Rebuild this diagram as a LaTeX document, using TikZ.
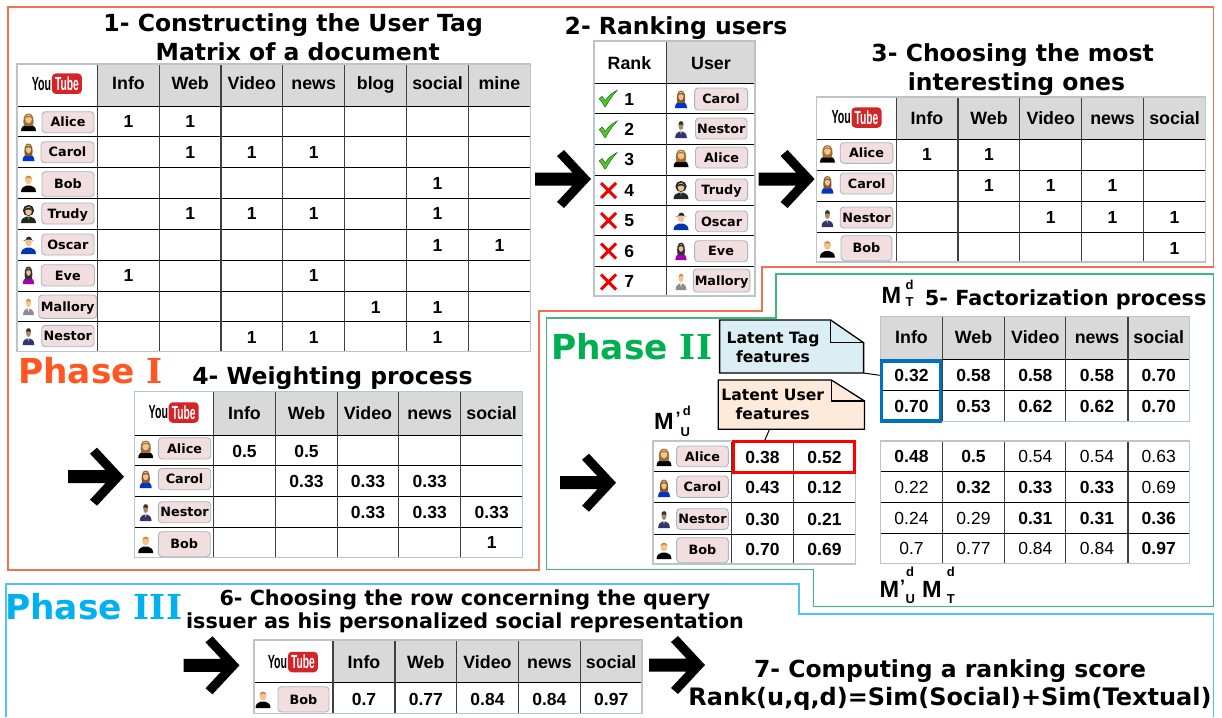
\documentclass[tikz,border=0pt]{standalone}
\usepackage{fontspec}
\setmainfont{Liberation Sans}
\newfontfamily\ttl{DejaVu Sans}
\newfontfamily\serifI{DejaVu Serif}
\usetikzlibrary{calc}
\definecolor{phaseone}{HTML}{FF5722}
\definecolor{phasetwo}{HTML}{00B050}
\definecolor{phasethree}{HTML}{00B0F0}
\definecolor{frameone}{HTML}{F0704F}
\definecolor{frametwo}{HTML}{3CB878}
\definecolor{framethree}{HTML}{4FC3F7}
\definecolor{hdr}{HTML}{D9D9D9}
\definecolor{gridout}{HTML}{B9C4CB}
\definecolor{pillfill}{HTML}{F2DEDE}
\definecolor{pilledge}{HTML}{A9B7BF}
\definecolor{skin}{HTML}{F2C48D}
\definecolor{notetag}{HTML}{DAEEF3}
\definecolor{noteuser}{HTML}{FDEADA}
\definecolor{ytred}{HTML}{D42428}
\definecolor{okgreen}{HTML}{55C22E}
\definecolor{bluebox}{HTML}{0070C0}
\newcounter{nn}
\tikzset{
  auto/.code={\stepcounter{nn}\tikzset{name=n\thenn}},
  titletext/.style={auto,font=\ttl\bfseries\fontsize{23.5}{26}\selectfont,inner sep=0pt,anchor=base},
  subtitle/.style={auto,font=\ttl\bfseries\fontsize{20.7}{24}\selectfont,inner sep=0pt,anchor=base},
  phasetext/.style={auto,font=\ttl\bfseries\fontsize{34.4}{38}\selectfont,inner sep=0pt,anchor=base west},
  headcell/.style={auto,font=\bfseries\fontsize{17.8}{20}\selectfont,inner sep=0pt,text height=12.8pt,text depth=0pt},
  valcell/.style={auto,font=\bfseries\fontsize{17.5}{20}\selectfont,inner sep=0pt,text height=12.6pt,text depth=0pt},
  plaincell/.style={auto,font=\fontsize{17.5}{20}\selectfont,inner sep=0pt,text height=12.6pt,text depth=0pt},
  pill/.style={auto,draw=pilledge,fill=pillfill,line width=0.9pt,rounded corners=3.5pt,inner sep=0pt,
    font=\ttl\bfseries\fontsize{12.8}{14}\selectfont,text=black,text height=9.4pt,text depth=0pt},
  gridin/.style={black,line width=0.9pt},
  gridedge/.style={gridout,line width=1.3pt},
  notebody/.style={line width=1.3pt,draw=black,line join=miter},
  notetext/.style={auto,font=\ttl\bfseries\fontsize{15.6}{18.7}\selectfont,inner sep=0pt,align=center},
  mlabel/.style={auto,font=\bfseries\fontsize{23.5}{26}\selectfont,inner sep=0pt,anchor=base west},
  msub/.style={auto,font=\bfseries\fontsize{13}{14}\selectfont,inner sep=0pt,anchor=base west},
  frameI/.style={frameone,line width=1.1pt},
  frameII/.style={frametwo,line width=1.1pt},
  frameIII/.style={framethree,line width=1.1pt},
}
\newcommand{\tablegrid}[6]{%
  \foreach \gy in {#2} \draw[gridin] (#5,\gy) -- (#3,\gy);
  \foreach \gx in {#1} \draw[gridin,line width=1.1pt,black!75] (\gx,#6) -- (\gx,#4);
  \draw[gridedge] (#5,#4) rectangle (#3,#6);
}
\newcommand{\cellh}[3]{\node[headcell] at (#1,#2) {#3};}
\newcommand{\cellv}[3]{\node[valcell] at (#1,#2) {#3};}
\newcommand{\cellp}[3]{\node[plaincell] at (#1,#2) {#3};}
\newcommand{\bigarrow}[2]{%
  \fill[black,shift={(#1,#2)}] (0,0) -- (-27,-29) -- (-34,-23) -- (-18.6,-6.5) -- (-56,-6.5) -- (-56,6.5) -- (-18.6,6.5) -- (-34,23) -- (-27,29) -- cycle;
}
\newcommand{\ytlogo}[2]{%
  \node[auto,anchor=east,inner sep=0pt,font=\bfseries\fontsize{19}{22}\selectfont] at (#1-0.3,#2) {\scalebox{0.56}[1]{You}};
  \node[auto,fill=ytred,rounded corners=4pt,minimum width=30pt,minimum height=20.5pt,inner sep=0pt,anchor=west,text=white,font=\bfseries\fontsize{19}{22}\selectfont] at (#1,#2) {\scalebox{0.54}[1]{Tube}};
}
\newcommand{\chip}[5]{%
  \node[pill,minimum width={(#2-#1)*1pt},minimum height={(#4-#3)*1pt}] at ({(#1+#2)/2},{(#3+#4)/2}) {#5};
}
\newcommand{\avbody}[1]{\fill[#1] (-7.5,9) .. controls (-7.5,4) and (-4,3.5) .. (-2,2.5) -- (2,2.5) .. controls (4,3.5) and (7.5,4) .. (7.5,9) -- cycle;}
\newcommand{\avhead}{\fill[skin] (0,-3) ellipse (3.4 and 4.4);}
\newcommand{\avhairlong}[1]{\fill[#1] (-4.5,4) .. controls (-6,-2) and (-5,-8.5) .. (0,-8.5) .. controls (5,-8.5) and (6,-2) .. (4.5,4) -- cycle;}
\newcommand{\avAlice}{\avbody{black}\avhairlong{brown!85!black}\avhead\fill[brown!85!black] (-3.6,-3.5) .. controls (-3,-7) and (3,-7) .. (3.6,-3.5) .. controls (2,-5.5) and (-2,-5.5) .. (-3.6,-3.5);}
\newcommand{\avCarol}{\begin{scope}[xscale=0.8]\avbody{blue!75!cyan!80!black}\avhairlong{brown!70!black}\avhead\fill[brown!70!black] (-3.6,-3.5) .. controls (-3,-7) and (3,-7) .. (3.6,-3.5) .. controls (2,-5.5) and (-2,-5.5) .. (-3.6,-3.5);\end{scope}}
\newcommand{\avBob}{\avbody{black}\avhead\fill[brown!70!orange] (-3.4,-4) .. controls (-3,-8.3) and (3,-8.3) .. (3.4,-4) .. controls (2,-6) and (-2,-6) .. (-3.4,-4);}
\newcommand{\avTrudy}{\avbody{black!85}\fill[black!85] (0,-3.5) circle (5.6);\avhead\fill[black!85] (-3.6,-3) .. controls (-3,-7.5) and (3,-7.5) .. (3.6,-3) .. controls (2,-5) and (-2,-5) .. (-3.6,-3);\fill[green!70!black] (-1,3) -- (1,3) -- (0,6) -- cycle;}
\newcommand{\avOscar}{\avbody{blue!70!cyan!70!black}\avhead\fill[black!85] (-5.5,-4) .. controls (-4,-3.6) and (-3,-5) .. (-3,-5) .. controls (-2,-9.5) and (3,-9.5) .. (3.5,-5) .. controls (4,-4.6) and (5,-3.6) .. (5.5,-4) .. controls (3,-6) and (-3,-6) .. (-5.5,-4);}
\newcommand{\avEve}{\begin{scope}[xscale=0.75]\avbody{violet!70!magenta}\avhairlong{black!80}\fill[skin] (0,-3) ellipse (3 and 3.8);\fill[black!80] (-3.4,-3.5) .. controls (-3,-7) and (3,-7) .. (3.4,-3.5) .. controls (2,-5.5) and (-2,-5.5) .. (-3.4,-3.5);\end{scope}}
\newcommand{\avMallory}{\begin{scope}[xscale=0.72]\avbody{black!45}\avhead\fill[brown!60!orange] (-3.4,-4) .. controls (-3,-8) and (3,-8) .. (3.4,-4) .. controls (2,-6) and (-2,-6) .. (-3.4,-4);\fill[white] (-1.2,2.5) -- (1.2,2.5) -- (0,6) -- cycle;\end{scope}}
\newcommand{\avNestor}{\begin{scope}[xscale=0.78]\avbody{black!60!blue!60!gray}\fill[skin!70!black] (0,-3) ellipse (3.1 and 4);\fill[black!80] (-3.4,-4.5) .. controls (-3,-9) and (3,-9) .. (3.4,-4.5) -- cycle;\fill[white!70!black] (-1.2,2.5) -- (1.2,2.5) -- (0,5.5) -- cycle;\end{scope}}
\newcommand{\avatar}[3]{\begin{scope}[shift={(#1,#2)}]\csname av#3\endcsname\end{scope}}
\newcommand{\checkmk}[2]{\fill[okgreen,draw=green!40!black,line width=0.4pt,shift={(#1,#2)}] (-9,0) -- (-6,-2.5) -- (-3,2) .. controls (0,-3) and (4,-6) .. (9,-8.5) .. controls (4,-3) and (0,3) .. (-2.5,8) -- (-3.5,8) .. controls (-5,5) and (-7,2) .. (-9,0) -- cycle;}
\newcommand{\crossmk}[2]{\draw[red!95!black,line width=3pt,shift={(#1,#2)}] (-7.5,-7.5) -- (7.5,7.5) (7.5,-7.5) -- (-7.5,7.5);}
\begin{document}
\begin{tikzpicture}[x=1pt,y=-1pt]
\useasboundingbox (0,0) rectangle (1222,717);
\fill[white] (0,0) rectangle (1222,717);

% ---------- frames
\draw[frameI] (8,7) -- (1213.5,7) -- (1213.5,267) -- (762,267) -- (762,311) -- (539,311) -- (539,570) -- (8,570) -- cycle;
\draw[frameII] (546.5,318) -- (776,318) -- (776,274) -- (1213.5,274) -- (1213.5,606.5) -- (813.5,606.5) -- (813.5,569.5) -- (546.5,569.5) -- cycle;
\draw[frameIII] (6,717) -- (6,584) -- (799,584) -- (799,614) -- (1213.5,614) -- (1213.5,717);

% ---------- table 1
\fill[hdr] (97.5,64) rectangle (530.5,106);
\tablegrid{97.5,159.4,221,282.7,344.7,406.7,468.3}{106,136.3,167.3,198.3,229,260.7,291.3,321.7}{530.5}{351.7}{17}{64}
\node[titletext] at (293.2,31.5) {1- Constructing the User Tag};
\node[titletext] at (297.7,60) {Matrix of a document};
\ytlogo{51.7}{83.7}
\foreach \x/\t in {128.5/Info,190.2/Web,251.8/Video,313.7/news,375.7/blog,437.5/social,499.4/mine} {\cellh{\x}{83.5}{\t}}
\chip{42}{94}{111.7}{132.7}{Alice}\chip{41}{94}{141.7}{162.7}{Carol}\chip{42}{94}{171.7}{196.7}{Bob}
\chip{41.7}{94}{203}{224}{Trudy}\chip{41.7}{94}{234}{255}{Oscar}\chip{41.2}{94.5}{264.7}{286}{Eve}
\chip{38.7}{96.7}{295}{318.3}{Mallory}\chip{41.7}{94}{325.3}{346.7}{Nestor}
\avatar{28.5}{122}{Alice}\avatar{28.5}{152}{Carol}\avatar{28.5}{183}{Bob}\avatar{28.5}{214}{Trudy}
\avatar{28.5}{245}{Oscar}\avatar{28.5}{275}{Eve}\avatar{28.5}{306}{Mallory}\avatar{28.5}{336}{Nestor}
\foreach \x/\y in {128.5/121,190.2/121,190.2/152,251.8/152,313.7/152,437.5/183,190.2/213.5,251.8/213.5,313.7/213.5,437.5/213.5,437.5/245,499.4/245,128.5/275.5,313.7/275.5,375.7/307,437.5/307,251.8/337.5,313.7/337.5,437.5/337.5} {\cellv{\x}{\y}{1}}

% ---------- table 2
\fill[hdr] (666.8,41) rectangle (755,83);
\tablegrid{666.8}{83,113,144,175,205,235,266}{755}{296}{594}{41}
\node[titletext] at (676,35) {2- Ranking users};
\cellh{629.5}{62.7}{Rank}\cellh{711}{62.7}{User}
\foreach \y/\n in {99/1,129/2,159.5/3,190/4,220/5,251/6,281.5/7} {\node[valcell] at (629.3,\y) {\n};}
\checkmk{608.2}{98.7}\checkmk{608.2}{129.5}\checkmk{608.2}{161}
\crossmk{608.5}{190.5}\crossmk{608.5}{220.5}\crossmk{608.5}{251}\crossmk{608.5}{282}
\chip{694.6}{747.6}{88}{110}{Carol}\chip{695.5}{747}{118}{139}{Nestor}\chip{695.5}{747.6}{147}{168}{Alice}
\chip{695.5}{747.6}{179}{200.7}{Trudy}\chip{695.5}{747.6}{211}{231.7}{Oscar}\chip{694.6}{747.6}{240.7}{261.7}{Eve}\chip{693.3}{749.8}{269}{292}{Mallory}
\avatar{681}{99}{Carol}\avatar{681}{129}{Nestor}\avatar{681}{158}{Alice}\avatar{681}{190}{Trudy}
\avatar{681}{221}{Oscar}\avatar{681}{251}{Eve}\avatar{681}{281}{Mallory}

% ---------- table 3
\fill[hdr] (896.3,97) rectangle (1205.6,139);
\tablegrid{896.3,958,1019.9,1081.6,1143.4}{139,170,201,232}{1205.6}{262}{816.8}{97}
\node[titletext] at (1012.6,61.5) {3- Choosing the most};
\node[titletext] at (1016.5,90) {interesting ones};
\ytlogo{851.3}{117.5}
\foreach \x/\t in {927/Info,989/Web,1050.8/Video,1112.5/news,1174.5/social} {\cellh{\x}{118.3}{\t}}
\chip{840.2}{892.8}{142.7}{163.3}{Alice}\chip{840.2}{893.2}{173}{194}{Carol}\chip{840.2}{892.8}{207}{228}{Nestor}\chip{841}{891.9}{235.7}{260.7}{Bob}
\avatar{827.4}{153.5}{Alice}\avatar{827.4}{184.5}{Carol}\avatar{827.4}{218}{Nestor}\avatar{827.4}{248.5}{Bob}
\foreach \x/\y in {927/154.5,989/154.5,989/185.5,1050.8/185.5,1112.5/185.5,1050.8/217,1112.5/217,1174.5/217,1174.5/248} {\cellv{\x}{\y}{1}}

% ---------- table 4
\fill[hdr] (213.5,391.7) rectangle (522.7,435);
\tablegrid{213.5,275.5,337.5,398.8,460.7}{435,465.7,496.7,527.7}{522.7}{557.7}{134.3}{391.7}
\node[phasetext,text=phaseone] at (18,383) {Phase {\serifI I}};
\node[titletext] at (332.5,384.5) {4- Weighting process};
\ytlogo{168.5}{412.5}
\foreach \x/\t in {244.5/Info,306.5/Web,368/Video,429.7/news,491.7/social} {\cellh{\x}{413.3}{\t}}
\chip{158.4}{210.7}{437.7}{459}{Alice}\chip{158.4}{210.7}{468.3}{489.7}{Carol}\chip{158.4}{210.7}{501.7}{522.7}{Nestor}\chip{158.4}{210.2}{531.7}{556.7}{Bob}
\avatar{145.7}{449}{Alice}\avatar{145.7}{479}{Carol}\avatar{145.7}{512}{Nestor}\avatar{145.7}{544}{Bob}
\foreach \x/\y/\t in {244.5/451/0.5,306.5/451/0.5,306.5/481/0.33,368/481/0.33,429.7/481/0.33,368/512/0.33,429.7/512/0.33,491.7/512/0.33,491.7/542.5/1} {\cellv{\x}{\y}{\t}}

% ---------- phase II
\node[phasetext,text=phasetwo] at (551,359) {Phase {\serifI II}};
\node[titletext,font=\ttl\bfseries\fontsize{20.8}{24}\selectfont] at (1065.7,305) {5- Factorization process};

\fill[hdr] (880.6,316.7) rectangle (1189.4,359.3);
\tablegrid{942.4,1004.6,1065.9,1128}{359.3,390}{1189.4}{421.3}{880.6}{316.7}
\foreach \x/\t in {911.5/Info,973.5/Web,1035.3/Video,1097/news,1158.7/social} {\cellh{\x}{337.5}{\t}}
\foreach \x/\a/\b in {911.5/0.32/0.70,973.5/0.58/0.53,1035.3/0.58/0.62,1097/0.58/0.62,1158.7/0.70/0.70} {\cellv{\x}{375}{\a}\cellv{\x}{406}{\b}}

\tablegrid{942.4,1004.6,1065.9,1128}{471.3,502.7,533.3}{1189.4}{563.3}{880.6}{441}
\foreach \x/\t in {911.5/0.48,973.5/0.5} {\cellv{\x}{456}{\t}}
\foreach \x/\t in {1035.3/0.54,1097/0.54,1158.7/0.63} {\cellp{\x}{456}{\t}}
\foreach \x/\t in {911.5/0.22,1158.7/0.69} {\cellp{\x}{487}{\t}}
\foreach \x/\t in {973.5/0.32,1035.3/0.33,1097/0.33} {\cellv{\x}{487}{\t}}
\foreach \x/\t in {911.5/0.24,973.5/0.29} {\cellp{\x}{518}{\t}}
\foreach \x/\t in {1035.3/0.31,1097/0.31,1158.7/0.36} {\cellv{\x}{518}{\t}}
\foreach \x/\t in {911.5/0.7,973.5/0.77,1035.3/0.84,1097/0.84} {\cellp{\x}{548}{\t}}
\cellv{1158.7}{548}{0.97}

\tablegrid{731.4,793.6}{471.3,502.7,534}{855.4}{564}{653.1}{441}
\chip{676.6}{728.3}{446}{466.7}{Alice}\chip{676.6}{728.3}{476}{497.3}{Carol}\chip{676.6}{728.3}{508.7}{529.3}{Nestor}\chip{676.6}{728.3}{537.7}{562.7}{Bob}
\avatar{664}{457}{Alice}\avatar{664}{488}{Carol}\avatar{664}{519}{Nestor}\avatar{664}{550}{Bob}
\foreach \y/\a/\b in {457/0.38/0.52,487.5/0.43/0.12,519/0.30/0.21,549/0.70/0.69} {\cellv{762.5}{\y}{\a}\cellv{824.5}{\y}{\b}}

% highlight boxes
\node[draw=red,line width=3.4pt,minimum width=120.5pt,minimum height=31.3pt,inner sep=0pt] (usercells) at (794,457.1) {};
\node[draw=bluebox,line width=3.4pt,minimum width=59.2pt,minimum height=60pt,inner sep=0pt] (tagcells) at (910.8,390.8) {};

% notes and their tails
\coordinate (tagcorner) at (863.6,373);
\coordinate (tagend) at (879.7,375.3);
\coordinate (usertip) at (769.2,430);
\coordinate (userend) at (764.9,440);
\draw[black,line width=1pt] (tagcorner) -- (tagend);
\draw[black,line width=1pt] (usertip) -- (userend);
\filldraw[notebody,fill=notetag] (719.6,320) -- (830.6,320) -- (863.6,342.7) -- (863.6,373) -- (719.6,373) -- cycle;
\draw[notebody] (830.6,320) -- (830.6,342.7) -- (863.6,342.7);
\node[notetext] at (773,347.5) {Latent Tag\\ features};
\filldraw[notebody,fill=noteuser] (718.3,380) -- (831.4,380) -- (864.5,401) -- (864.5,429.3) -- (718.3,429.3) -- cycle;
\draw[notebody] (831.4,380) -- (831.4,401) -- (864.5,401);
\node[notetext] at (772.7,404.5) {Latent User\\ features};

% matrix labels
\node[mlabel] at (881.5,303) {M};
\node[msub] at (905.4,289.5) {d};\node[msub] at (905.4,306.7) {T};
\node[mlabel] at (654,429.5) {M};
\node[msub,font=\bfseries\fontsize{18}{20}\selectfont] at (675.5,424) {'};
\node[msub] at (682.7,415.7) {d};\node[msub] at (680.5,436) {U};
\node[mlabel] at (879.3,597) {M};
\node[msub,font=\bfseries\fontsize{18}{20}\selectfont] at (900,592) {'};
\node[msub] at (906,576) {d};\node[msub] at (905.4,603.3) {U};
\node[mlabel] at (921.9,597) {M};
\node[msub] at (946.7,576) {d};\node[msub] at (946.7,603.3) {T};

% ---------- phase III
\node[phasetext,text=phasethree] at (5,619) {Phase {\serifI III}};
\node[subtitle] at (465,605) {6- Choosing the row concerning the query};
\node[subtitle] at (465,628.3) {issuer as his personalized social representation};
\fill[hdr] (333,640) rectangle (642,682.7);
\tablegrid{333,395,456.6,518.3,580.5}{682.7}{642}{713.3}{254}{640}
\ytlogo{287.7}{662}
\foreach \x/\t in {364/Info,425.8/Web,487.5/Video,549.4/news,611.2/social} {\cellh{\x}{662.5}{\t}}
\chip{278}{329}{686.7}{712}{Bob}
\avatar{263}{699}{Bob}
\foreach \x/\t in {364/0.7,425.8/0.77,487.5/0.84,549.4/0.84,611.2/0.97} {\cellv{\x}{699.5}{\t}}
\node[titletext] at (950,677) {7- Computing a ranking score};
\node[titletext,font=\ttl\bfseries\fontsize{24}{26}\selectfont] at (950,705.5) {Rank(u,q,d)=Sim(Social)+Sim(Textual)};

% ---------- arrows
\bigarrow{591}{179}\bigarrow{814.6}{179}\bigarrow{124}{476.7}\bigarrow{616}{482.7}\bigarrow{239.5}{665.3}\bigarrow{705}{665}
\end{tikzpicture}
\end{document}
